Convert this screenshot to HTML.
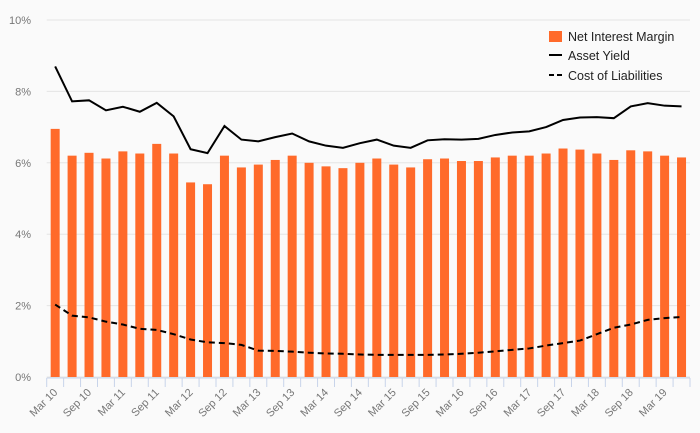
<!DOCTYPE html>
<html><head><meta charset="utf-8"><style>
body{margin:0;background:#fafafa;font-family:"Liberation Sans",sans-serif}
svg{display:block}
</style></head><body>
<svg id="c" width="700" height="433" xmlns="http://www.w3.org/2000/svg">
<rect width="700" height="433" fill="#fafafa"/>
<g id="grid"></g>
<g id="bars"></g>
<g id="lines"></g>
<g id="axes"></g>
<g>
<g><rect x="549" y="31" width="13" height="11" fill="#ff6a2a"/><text x="568" y="41" font-size="12.5" fill="#222">Net Interest Margin</text></g>
<g><line x1="549" y1="55" x2="562" y2="55" stroke="#000" stroke-width="2"/><text x="568" y="60" font-size="12.5" fill="#222">Asset Yield</text></g>
<g><line x1="549" y1="75" x2="562" y2="75" stroke="#000" stroke-width="2" stroke-dasharray="5,3"/><text x="568" y="80" font-size="12.5" fill="#222">Cost of Liabilities</text></g>
</g>
</svg>
<script>
const yTicks=[0,2,4,6,8,10];
const nim=[6.95,6.2,6.28,6.12,6.32,6.26,6.53,6.26,5.45,5.4,6.2,5.87,5.95,6.08,6.2,6.0,5.9,5.85,6.0,6.12,5.95,5.87,6.1,6.12,6.05,6.05,6.15,6.2,6.2,6.26,6.4,6.37,6.26,6.08,6.35,6.32,6.2,6.15];
const assetYield=[8.7,7.72,7.75,7.47,7.57,7.43,7.68,7.3,6.38,6.27,7.03,6.65,6.6,6.72,6.82,6.6,6.48,6.42,6.55,6.65,6.48,6.42,6.63,6.66,6.65,6.67,6.78,6.85,6.88,7.0,7.2,7.27,7.28,7.25,7.58,7.67,7.6,7.58];
const costLiab=[2.03,1.72,1.67,1.55,1.47,1.35,1.32,1.2,1.05,0.97,0.95,0.9,0.74,0.73,0.71,0.68,0.66,0.65,0.63,0.62,0.62,0.62,0.62,0.63,0.65,0.68,0.72,0.76,0.8,0.88,0.95,1.02,1.2,1.38,1.47,1.6,1.65,1.68];
const xLabels=["Mar 10","Sep 10","Mar 11","Sep 11","Mar 12","Sep 12","Mar 13","Sep 13","Mar 14","Sep 14","Mar 15","Sep 15","Mar 16","Sep 16","Mar 17","Sep 17","Mar 18","Sep 18","Mar 19"];
const NS="http://www.w3.org/2000/svg";
const X0=46.7,X1=690,Y0=377,Y1=20,N=nim.length,step=(X1-X0)/N;
const y=v=>Y0-(v/10)*(Y0-Y1);
const xc=i=>X0+step*(i+0.5);
function mk(t,a,p){const e=document.createElementNS(NS,t);for(const k in a)e.setAttribute(k,a[k]);p.appendChild(e);return e;}
const grid=document.getElementById('grid'),axes=document.getElementById('axes');
yTicks.forEach(v=>{
 const l=mk('line',{x1:X0,x2:X1,y1:y(v),y2:y(v),stroke:'#e4e4e4','stroke-width':1},grid);
 
 
 const t=mk('text',{x:31,y:y(v)+4,'font-size':11,fill:'#777','text-anchor':'end'},axes);
 t.textContent=v+'%';
 
 
});
const bars=document.getElementById('bars');
nim.forEach((v,i)=>{
 const r=mk('rect',{x:xc(i)-4.5,y:y(v),width:9,height:Y0-y(v),fill:'#ff6a2a'},bars);
 
 
});
const lines=document.getElementById('lines');
const p1=mk('polyline',{points:assetYield.map((v,i)=>xc(i)+','+y(v)).join(' '),fill:'none',stroke:'#000','stroke-width':2},lines);


const p2=mk('polyline',{points:costLiab.map((v,i)=>xc(i)+','+y(v)).join(' '),fill:'none',stroke:'#000','stroke-width':2,'stroke-dasharray':'6,4'},lines);


const ax=mk('line',{x1:X0,x2:X1,y1:Y0+1,y2:Y0+1,stroke:'#c8d4ea','stroke-width':1},axes);


for(let i=0;i<=N;i++){
 const tk=mk('line',{x1:X0+step*i,x2:X0+step*i,y1:Y0+1,y2:Y0+10,stroke:'#c8d4ea','stroke-width':1},axes);
 
 
}
xLabels.forEach((s,j)=>{
 const xx=xc(j*2)+3,yy=Y0+16;
 const t=mk('text',{x:xx,y:yy,'font-size':11,fill:'#777','text-anchor':'end',transform:`rotate(-45 ${xx} ${yy})`},axes);
 t.textContent=s;
 
 
});
</script>
</body></html>
